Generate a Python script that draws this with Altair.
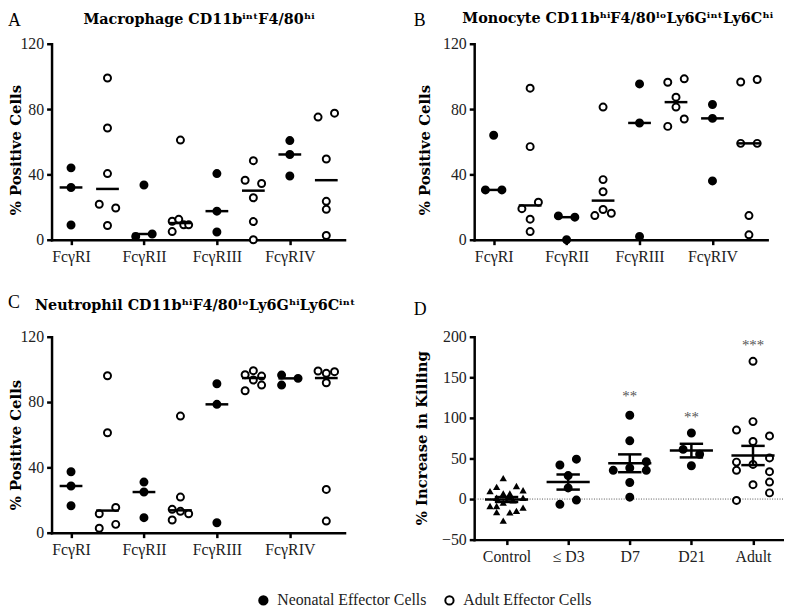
import json
import altair as alt
import pandas as pd

FONT = "Liberation Serif"
BOLD_FONT = "DejaVu Serif"
NEO = "Neonatal Effector Cells"
ADU = "Adult Effector Cells"

receptors = ["FcγRI", "FcγRII", "FcγRIII", "FcγRIV"]

# ---------------- Panel A: Macrophage ----------------
A_neo = [[44, 32, 9], [33.5, 2, 3.5], [40.5, 17.5, 4.7], [60.7, 52.2, 39]]
A_neo_slot = [[0, 0, 0], [0, -1, 1], [0, 0, 0], [0, 0, 0]]
A_adu = [[99, 68.4, 40.5, 21.7, 19.4, 8.7],
         [61, 11.3, 12.5, 5, 9.1, 9.1],
         [48.4, 36.4, 34.4, 25.7, 11.1, 0],
         [75.1, 77.5, 49.4, 23.5, 18.6, 2.6]]
A_adu_slot = [[0, 0, 0, -1, 1, 0], [0, -1, -0.2, -1, 0.4, 1], [0, -1, 1, 0, 0, 0], [-1, 1, 0, 0, 0, 0]]

# ---------------- Panel B: Monocyte ----------------
B_neo = [[64, 30.5, 30.5], [14.6, 13.8, 0], [95.4, 71.5, 2], [82.8, 74.3, 36]]
B_neo_slot = [[0, -1, 1], [-1, 1, 0], [0, 0, 0], [0, 0, 0]]
B_adu = [[92.8, 57, 23, 19, 12.6, 5],
         [81.2, 36.8, 29.4, 14.8, 18.5, 16.2],
         [96.4, 98.5, 87.3, 81.2, 69.4, 73.9],
         [96.6, 98.1, 59, 59, 14.8, 3]]
B_adu_slot = [[0, 0, 1, -1, 0, 0], [0, 0, 0, -1, 0, 1], [-1, 1, 0, 0, -1, 1], [-1, 1, -1, 1, 0, 0]]

# ---------------- Panel C: Neutrophil ----------------
C_neo = [[37.3, 28.6, 16.5], [31, 24.9, 9.2], [91.2, 78.6, 6.1], [96.5, 90.4, 94.5]]
C_neo_slot = [[0, 0, 0], [0, 0, 0], [0, 0, 0], [-1, -1, 1]]
C_adu = [[96.1, 61.2, 15.5, 11.6, 5.1, 2.7],
         [71.4, 21.8, 14.3, 13.1, 11.6, 7.8],
         [96.7, 99.2, 95.9, 93.5, 86.9, 90.4],
         [99, 98.6, 97.6, 91.8, 26.5, 7.1]]
C_adu_slot = [[0, 0, 1, -1, 1, -1], [0, 0, -1, 0, 1, -1], [-1, 0, 1, 0, -1, 1], [-1, 1, 0, 0, 0, 0]]

# ---------------- Panel D: killing ----------------
D_groups = ["Control", "≤ D3", "D7", "D21", "Adult"]
D_control = [25.8, 15, 16.1, 9.7, 6.9, 6.9, 10.9, 1.6, -8.5, -8.5, -4.4, -1.6, 1.6, -10.5, -14.5, -16.1, -16.5, -26.6, 2]
D_control_slot = [-0.4, -1.2, 1.2, -2, -0.4, 0.4, 2, -1.2, -2, -1.2, -0.4, 0.8, 2, 2, 1.2, -1.2, 0.4, -0.4, 0.4]
D_d3 = [41.9, 49.1, 28.9, 13.7, -6.5, -1.3]
D_d3_slot = [-1, 1, 0, 0, -1, 1]
D_d7 = [103.2, 71.7, 45.9, 35.4, 38.2, 35.4, 20.4, 2.3]
D_d7_slot = [0, 0, 2, -2, 0, 2, 0, 0]
D_d21 = [81.4, 61.2, 55.2, 41]
D_d21_slot = [0, -1, 1, 0]
D_adult = [169.7, 95.4, 85, 77.8, 70.9, 50.7, 45.5, 42.7, 35.4, 33.7, 17.7, 20.9, 7.6, -1.7]
D_adult_slot = [0, 0, -2, 2, 0, 2, -2, 0, -2, 2, 0, 2, 2, -2]
star_group = [2, 3, 4]
star_text = ["**", "**", "***"]
star_value = [127, 101, 190]

# ---------------- layout constants ----------------
SLOT = 0.113
SHIFT = 0.5
MED_HALF = 0.156
D_SLOT = 0.134
MEAN_HALF = 0.35
CAP_HALF = 0.19

FILL_SCALE = alt.Scale(domain=[NEO, ADU], range=["black", "white"])


def abc_frames(neo, neo_slot, adu, adu_slot):
    rows = []
    for i in range(len(receptors)):
        for v, s in zip(neo[i], neo_slot[i]):
            rows.append({"x": i + s * SLOT, "value": v, "group": NEO, "center": float(i)})
        for v, s in zip(adu[i], adu_slot[i]):
            rows.append({"x": i + SHIFT + s * SLOT, "value": v, "group": ADU, "center": i + SHIFT})
    df = pd.DataFrame(rows)
    med = df.groupby(["center", "group"], as_index=False)["value"].median()
    med["x1"] = med["center"] - MED_HALF
    med["x2"] = med["center"] + MED_HALF
    return df, med


def letter_layer(letter, lx, ly):
    return alt.Chart(pd.DataFrame({"t": [letter]})).mark_text(
        align="left", baseline="top", fontSize=18, font=FONT, color="black"
    ).encode(text="t:N", x=alt.value(lx), y=alt.value(ly))


def title_layer(title, tx, ty):
    return alt.Chart(pd.DataFrame({"t": [title]})).mark_text(
        align="center", baseline="alphabetic", fontSize=14.5, font=BOLD_FONT, fontWeight="bold", color="black"
    ).encode(text="t:N", x=alt.value(tx), y=alt.value(ty))


def abc_panel(frames, title, title_xy, letter, letter_xy, width, height, ytitle_xy, legend):
    df, med = frames
    xs = alt.Scale(domain=[-0.267, 3.75], nice=False, zero=False)
    ys = alt.Scale(domain=[0, 120], nice=False)
    xaxis = alt.Axis(values=[0, 1, 2, 3], title=None,
                     labelExpr=json.dumps(receptors, ensure_ascii=False) + "[datum.value]")
    yaxis = alt.Axis(values=[0, 40, 80, 120], title="% Positive Cells",
                     titleX=ytitle_xy[0], titleY=ytitle_xy[1], titleAngle=270,
                     titleAlign="center", titleBaseline="middle")
    pts = alt.Chart(df).mark_point(filled=True, stroke="black", strokeWidth=2, size=50, opacity=1).encode(
        x=alt.X("x:Q", scale=xs, axis=xaxis),
        y=alt.Y("value:Q", scale=ys, axis=yaxis),
        fill=alt.Fill("group:N", scale=FILL_SCALE, legend=legend),
    )
    meds = alt.Chart(med).mark_rule(color="black", strokeWidth=2.5).encode(
        x=alt.X("x1:Q", scale=xs, axis=xaxis), x2="x2:Q",
        y=alt.Y("value:Q", scale=ys, axis=yaxis),
    )
    return alt.layer(pts, meds, letter_layer(letter, *letter_xy), title_layer(title, *title_xy)).properties(
        width=width, height=height)


legend = alt.Legend(title=None, orient="none", legendX=206, legendY=554, direction="horizontal",
                    symbolType="circle", symbolSize=70, symbolStrokeColor="black", symbolStrokeWidth=2,
                    labelFont=FONT, labelFontSize=16, labelColor="#222", columnPadding=14,
                    labelOffset=6, padding=0, labelLimit=400)

A = abc_panel(abc_frames(A_neo, A_neo_slot, A_adu, A_adu_slot),
              "Macrophage CD11bⁱⁿᵗF4/80ʰⁱ", (149, -20), "A", (-44, -32), 296, 198, (-36, 107), legend)
B = abc_panel(abc_frames(B_neo, B_neo_slot, B_adu, B_adu_slot),
              "Monocyte CD11bʰⁱF4/80ˡᵒLy6GⁱⁿᵗLy6Cʰⁱ", (145, -21), "B", (-61, -32), 296, 198, (-50, 107), None)
C = abc_panel(abc_frames(C_neo, C_neo_slot, C_adu, C_adu_slot),
              "Neutrophil CD11bʰⁱF4/80ˡᵒLy6GʰⁱLy6Cⁱⁿᵗ", (145, -27), "C", (-44, -43), 296, 198, (-36, 109), None)

# ---- panel D frames ----
D_values = [D_control, D_d3, D_d7, D_d21, D_adult]
D_slots = [D_control_slot, D_d3_slot, D_d7_slot, D_d21_slot, D_adult_slot]
d_rows = []
for i, (vals, slots) in enumerate(zip(D_values, D_slots)):
    grp = "Control" if i == 0 else (ADU if D_groups[i] == "Adult" else NEO)
    for v, s in zip(vals, slots):
        d_rows.append({"x": i + s * D_SLOT, "value": v, "group": grp, "center": float(i)})
ddf = pd.DataFrame(d_rows)
stats = ddf.groupby("center")["value"].agg(["mean", "sem"]).reset_index()
stats["x1"] = stats["center"] - MEAN_HALF
stats["x2"] = stats["center"] + MEAN_HALF
stats["lo"] = stats["mean"] - stats["sem"]
stats["hi"] = stats["mean"] + stats["sem"]
caps = pd.concat([
    pd.DataFrame({"c1": stats["center"] - CAP_HALF, "c2": stats["center"] + CAP_HALF, "y": stats["lo"]}),
    pd.DataFrame({"c1": stats["center"] - CAP_HALF, "c2": stats["center"] + CAP_HALF, "y": stats["hi"]}),
])
stars = pd.DataFrame({"center": star_group, "value": star_value, "t": star_text})

dxs = alt.Scale(domain=[-0.525, 4.487], nice=False, zero=False)
dys = alt.Scale(domain=[-50, 200], nice=False)
dxaxis = alt.Axis(values=[0, 1, 2, 3, 4], title=None,
                  labelExpr=json.dumps(D_groups, ensure_ascii=False) + "[datum.value]")
dyaxis = alt.Axis(values=[-50, 0, 50, 100, 150, 200],
                  title="% Increase in Killing", titleX=-53, titleY=102, titleAngle=270,
                  titleAlign="center", titleBaseline="middle")

zero = alt.Chart(pd.DataFrame({"y": [0]})).mark_rule(color="#555", strokeWidth=1, strokeDash=[1, 1.5]).encode(
    y=alt.Y("y:Q", scale=dys, axis=dyaxis))
tri = alt.Chart(ddf[ddf["group"] == "Control"]).mark_point(
    shape="triangle-up", filled=True, color="black", size=55, opacity=1).encode(
    x=alt.X("x:Q", scale=dxs, axis=dxaxis), y=alt.Y("value:Q", scale=dys, axis=dyaxis))
circ = alt.Chart(ddf[ddf["group"] != "Control"]).mark_point(
    filled=True, stroke="black", strokeWidth=2, size=50, opacity=1).encode(
    x=alt.X("x:Q", scale=dxs, axis=dxaxis),
    y=alt.Y("value:Q", scale=dys, axis=dyaxis),
    fill=alt.Fill("group:N", scale=FILL_SCALE, legend=None))
mean_l = alt.Chart(stats).mark_rule(color="black", strokeWidth=2.5).encode(
    x=alt.X("x1:Q", scale=dxs, axis=dxaxis), x2="x2:Q", y=alt.Y("mean:Q", scale=dys, axis=dyaxis))
sem_l = alt.Chart(stats).mark_rule(color="black", strokeWidth=2.5).encode(
    x=alt.X("center:Q", scale=dxs, axis=dxaxis), y=alt.Y("lo:Q", scale=dys, axis=dyaxis), y2="hi:Q")
cap_l = alt.Chart(caps).mark_rule(color="black", strokeWidth=2.5).encode(
    x=alt.X("c1:Q", scale=dxs, axis=dxaxis), x2="c2:Q", y=alt.Y("y:Q", scale=dys, axis=dyaxis))
star_l = alt.Chart(stars).mark_text(font=FONT, fontSize=15, color="#555555", baseline="middle").encode(
    x=alt.X("center:Q", scale=dxs, axis=dxaxis), y=alt.Y("value:Q", scale=dys, axis=dyaxis), text="t:N")

D = alt.layer(zero, tri, circ, mean_l, sem_l, cap_l, star_l, letter_layer("D", -61, -36)).properties(
    width=312, height=205)

chart = alt.concat(A, B, C, D, columns=2, spacing={"row": 98, "column": 131}, bounds="flush").resolve_scale(
    fill="independent").resolve_legend(fill="independent").properties(padding=0, background="white").configure(
    font=FONT).configure_view(stroke=None).configure_axis(
    domainColor="black", domainWidth=2.5, domainCap="square", tickColor="black", tickWidth=2.5, tickSize=5,
    labelFont=FONT, labelFontSize=16, labelColor="#222", labelPadding=3, labelFlush=False, labelOverlap=False,
    titleFont=BOLD_FONT, titleFontSize=15, titleFontWeight="bold", titleColor="black", grid=False).configure_axisX(
    labelPadding=4)

chart.save("out.html", embed_options={"renderer": "svg", "actions": False})
